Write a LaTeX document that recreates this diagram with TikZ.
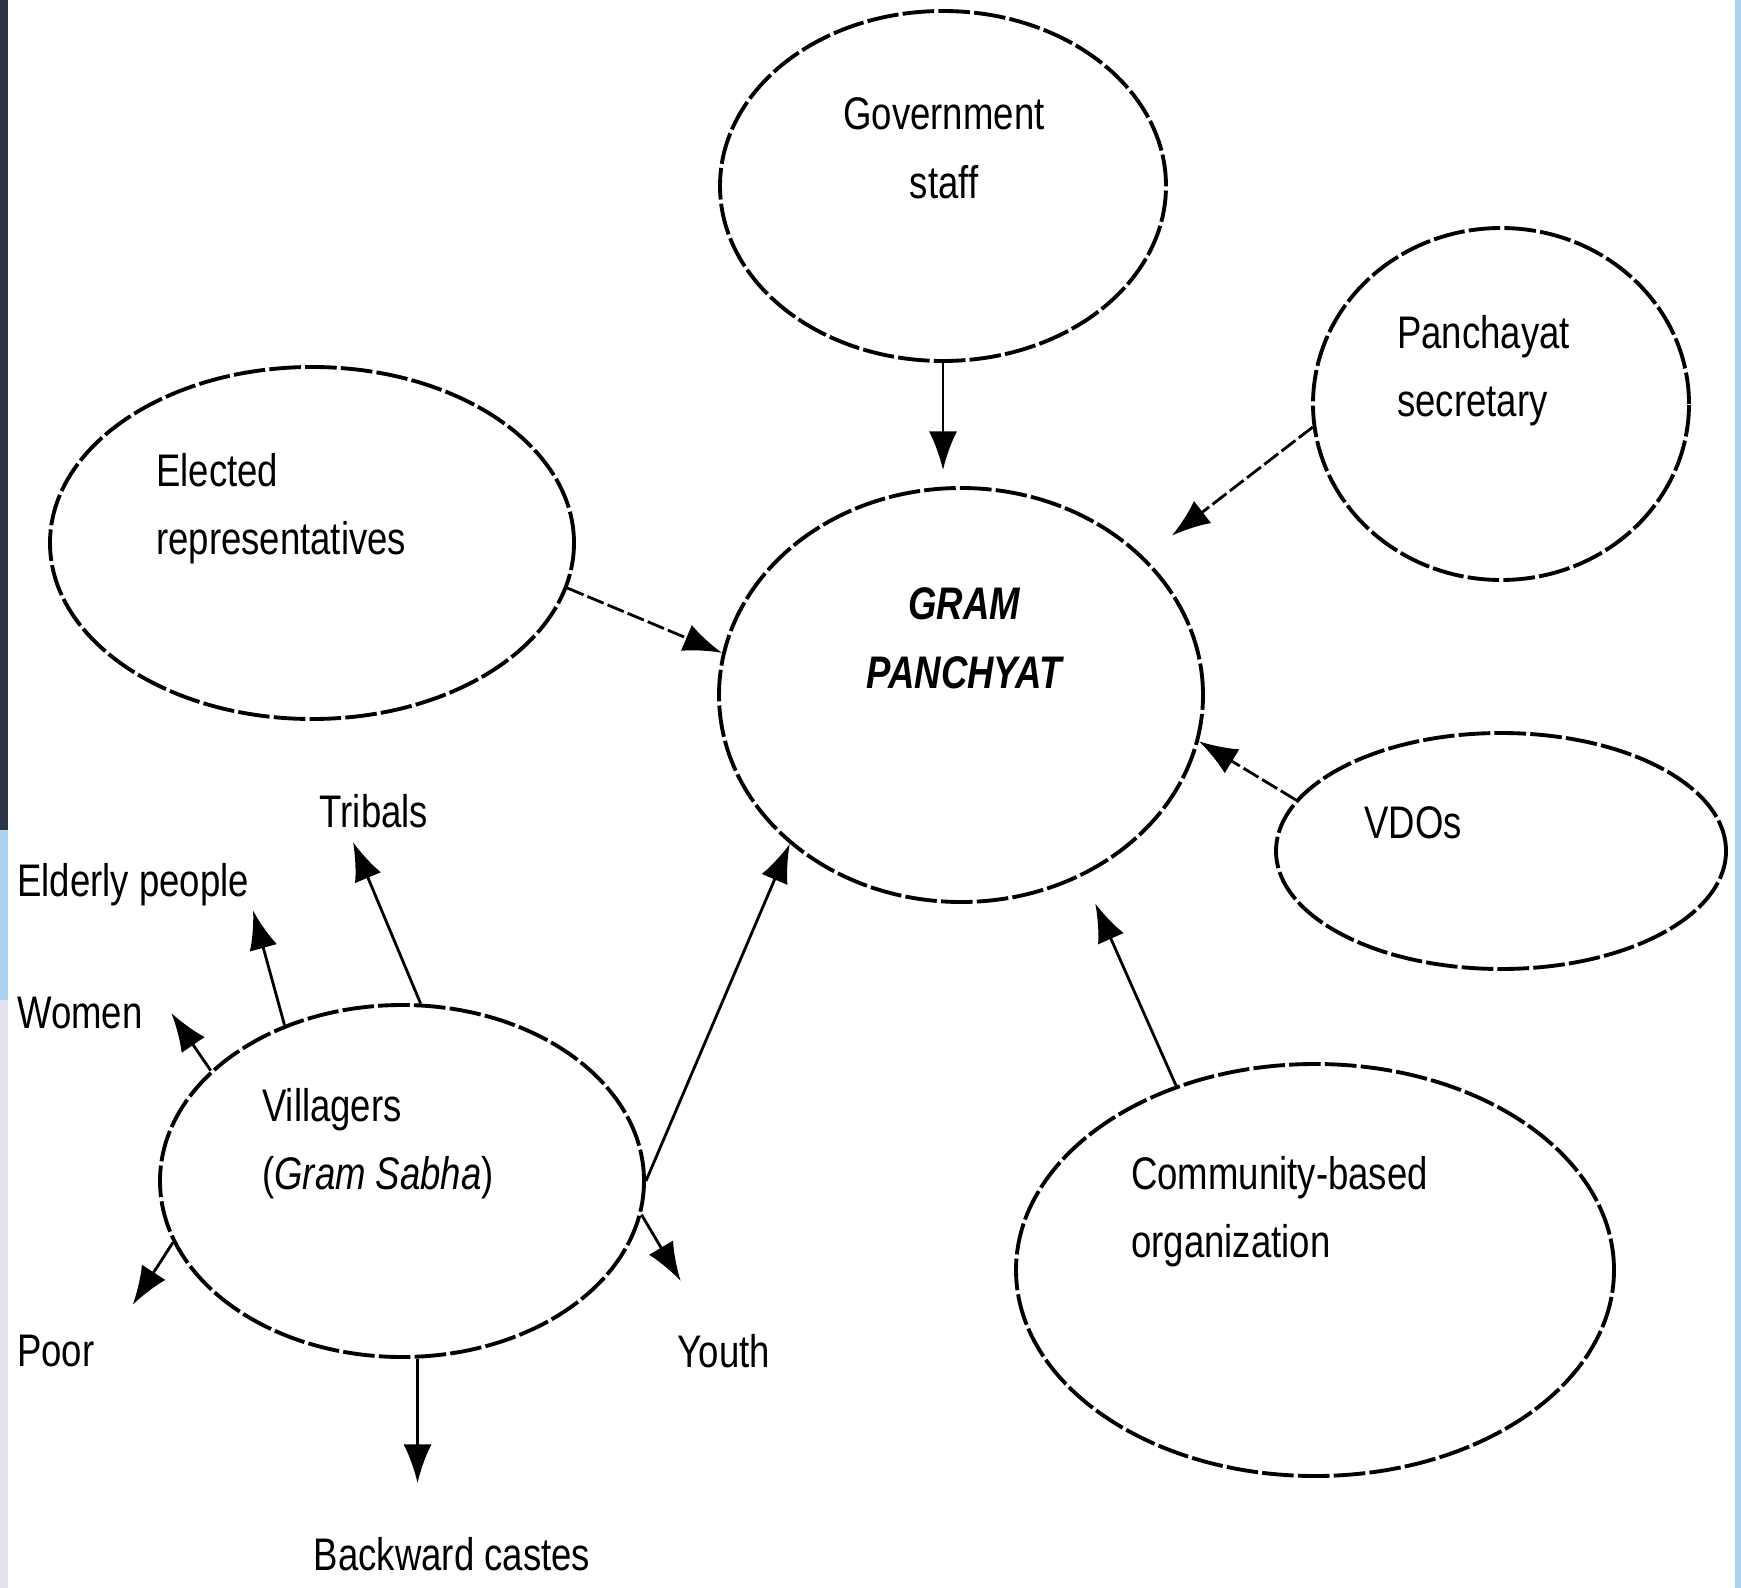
\documentclass[tikz,border=0pt]{standalone}
\usepackage{fontspec}
\setmainfont{Liberation Sans}[FakeStretch=0.8]
\usetikzlibrary{shapes.geometric,arrows.meta}
\definecolor{slidenavy}{HTML}{2C3347}
\definecolor{slidesky}{HTML}{A9D3EE}
\definecolor{slidelav}{HTML}{E4E2EE}
\begin{document}
\begin{tikzpicture}[font=\fontsize{13}{19.5}\selectfont]
    \useasboundingbox (0,0) rectangle (17.41,-15.88);
    \fill[white] (0,0) rectangle (17.41,-15.88);
    % slide edges
    \fill[slidenavy] (0,0) rectangle (0.08,-8.3);
    \fill[slidesky] (0,-8.3) rectangle (0.08,-10.0);
    \fill[slidelav] (0,-10.0) rectangle (0.08,-15.88);
    \fill[slidesky] (17.35,0) rectangle (17.41,-15.88);

\begin{scope}[every node/.style={ellipse,draw=black,line width=1.1pt,
              dash pattern=on 9pt off 1.2pt,inner sep=0pt}]
    \node[minimum width=4.46cm,minimum height=3.50cm] (gov) at (9.43,-1.86) {};
    \node[minimum width=3.76cm,minimum height=3.52cm] (sec) at (15.01,-4.04) {};
    \node[minimum width=5.24cm,minimum height=3.52cm] (ele) at (3.12,-5.43) {};
    \node[minimum width=4.84cm,minimum height=4.14cm] (gp) at (9.61,-6.95) {};
    \node[minimum width=4.50cm,minimum height=2.36cm] (vdo) at (15.01,-8.51) {};
    \node[minimum width=4.84cm,minimum height=3.52cm] (vil) at (4.02,-11.81) {};
    \node[minimum width=5.98cm,minimum height=4.12cm] (cbo) at (13.15,-12.70) {};
\end{scope}

\begin{scope}[every node/.style={inner sep=1pt}]
    \node[align=center] (govtxt) at (9.44,-1.485) {Government\\staff};
    \node[anchor=west,align=left] (sectxt) at (13.93,-3.705) {Panchayat\\secretary};
    \node[anchor=west,align=left] (eletxt) at (1.52,-5.085) {Elected\\representatives};
    \node[align=center,font=\fontsize{13}{19.5}\selectfont\bfseries\itshape] (gptxt) at (9.64,-6.385) {GRAM\\PANCHYAT};
    \node (vdotxt) at (14.13,-8.23) {VDOs};
    \node[anchor=west,align=left] (viltxt) at (2.58,-11.435) {Villagers\\(\textit{Gram Sabha})};
    \node[anchor=west,align=left] (cbotxt) at (11.27,-12.115) {Community-based\\organization};

    \node (tribals) at (3.74,-8.11) {Tribals};
    \node[anchor=west] (elderly) at (0.13,-8.85) {Elderly people};
    \node[anchor=west] (women) at (0.13,-10.13) {Women};
    \node[anchor=west] (poor) at (0.13,-13.51) {Poor};
    \node (youth) at (7.24,-13.51) {Youth};
    \node (back) at (4.52,-15.54) {Backward castes};
\end{scope}

\begin{scope}[every edge/.style={draw=black,line width=0.8pt},
              >={Latex[length=11pt,width=8pt]}]
    % into the Gram Panchayat
    \path [->] (gov.south) edge[shorten >=0.16cm] (gov.south |- gp.north);
    \path [->] (sec.187) edge[shorten >=0.35cm,dash pattern=on 5pt off 1.2pt] (gp.37);
    \path [->] (ele.-10) edge[dash pattern=on 5pt off 1.2pt] (gp.170);
    \path [->] (vdo.166) edge[dash pattern=on 5pt off 1.2pt] (gp.-11);
    \path [->] (cbo.127) edge[shorten >=0.3cm] (gp.-56);
    \path [->] (vil.east) edge (gp.221);

    % out of the villagers
    \path [->] (vil.84) edge ([xshift=-0.21cm,yshift=-0.1cm]tribals.south);
    \path [->] (vil.127) edge (elderly.south east);
    \path [->] (vil.150) edge ([xshift=7pt]women.east);
    \path [->] (vil.195) edge ([xshift=0.34cm,yshift=0.26cm]poor.north east);
    \path [->] (vil.-8) edge ([xshift=2pt,yshift=0.49cm]youth.north west);
    \path [->] (vil.-85) edge[shorten >=0.5cm] (vil.-85 |- back.north);
\end{scope}
\end{tikzpicture}
\end{document}
